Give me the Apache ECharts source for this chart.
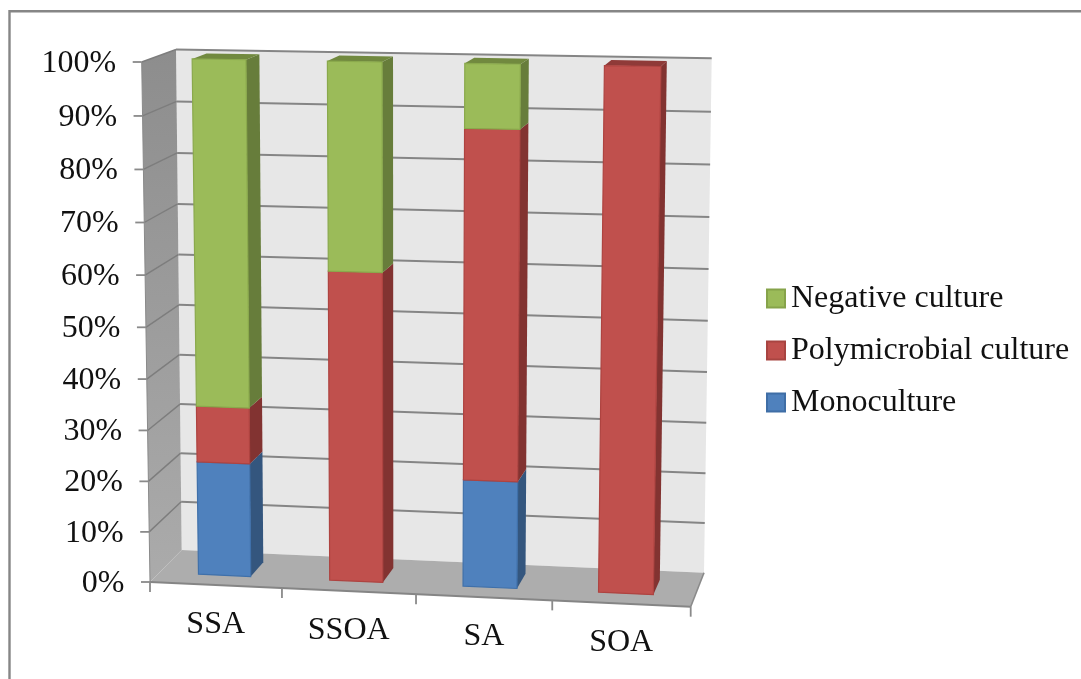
<!DOCTYPE html>
<html><head><meta charset="utf-8">
<style>html,body{margin:0;padding:0;background:#fff}#c{width:1081px;height:679px;filter:blur(0.6px)}</style>
<script src="https://cdn.jsdelivr.net/npm/echarts@6/dist/echarts.min.js"></script>
</head><body><div id="c"></div>
<script>
const categories = ['SSA', 'SSOA', 'SA', 'SOA'];
const yTicks = [0, 10, 20, 30, 40, 50, 60, 70, 80, 90, 100];
const monoculture = [22.5, 0, 21, 0];
const polymicrobial = [11, 60.5, 67, 100];
const negative = [66.5, 39.5, 12, 0];

const FONT = '"Liberation Serif","Times New Roman",serif';
// corners of the 3D box on the page
const box = {
  b0: { l: [150, 582], r: [690.7, 606.7] },
  t0: { l: [141.7, 62], r: [700, 71] },
  b1: { l: [181.7, 550], r: [704, 572.7] },
  t1: { l: [176, 49.5], r: [711.7, 58.3] }
};
const lerp = (a, b, t) => a + (b - a) * t;
const warp = (t, k) => t * k / (1 + (k - 1) * t);
function proj(u, v, d) {
  const U = warp(u, 0.9685), V = warp(v, 0.96);
  const out = [];
  for (let i = 0; i < 2; i++) {
    const f = lerp(lerp(box.b0.l[i], box.b0.r[i], U), lerp(box.t0.l[i], box.t0.r[i], U), V);
    const b = lerp(lerp(box.b1.l[i], box.b1.r[i], U), lerp(box.t1.l[i], box.t1.r[i], U), V);
    out.push(lerp(f, b, d));
  }
  return out;
}
function norm(api, params, cat, val) {
  const p = api.coord([cat, val]);
  const cs = params.coordSys;
  return [(p[0] - cs.x) / cs.width, (cs.y + cs.height - p[1]) / cs.height];
}
const poly = (points, fill, stroke, w) => ({
  type: 'polygon', shape: { points },
  style: { fill, stroke: stroke || null, lineWidth: w || 0 }, silent: true
});
const line = (a, b, color, w) => ({
  type: 'line', shape: { x1: a[0], y1: a[1], x2: b[0], y2: b[1] },
  style: { stroke: color, lineWidth: w }, silent: true
});
const text = (s, x, y, align) => ({
  type: 'text', silent: true,
  style: { text: s, x, y, align, verticalAlign: 'middle', font: '32px ' + FONT, fill: '#111111' }
});

function renderFrame(params, api) {
  const ch = [];
  const sideFill = new echarts.graphic.LinearGradient(0, 0, 0, 1, [
    { offset: 0, color: '#8d8d8d' }, { offset: 1, color: '#ababab' }]);
  ch.push(poly([proj(0, 0, 1), proj(1, 0, 1), proj(1, 1, 1), proj(0, 1, 1)], '#e7e7e7'));
  ch.push(poly([proj(0, 0, 0), proj(0, 0, 1), proj(0, 1, 1), proj(0, 1, 0)], sideFill));
  ch.push(poly([proj(0, 0, 0), proj(1, 0, 0), proj(1, 0, 1), proj(0, 0, 1)], '#adadad'));
  yTicks.forEach(t => {
    const v = norm(api, params, 0, t)[1];
    const a = proj(0, v, 0), b = proj(0, v, 1), c = proj(1, v, 1);
    if (t > 0) ch.push(line(b, c, '#858585', 2));
    if (t > 0) ch.push(line(a, b, '#7d7d7d', 1.4));
    ch.push(line([a[0] - 9, a[1]], a, '#8a8a8a', 1.8));
    ch.push(text(t + '%', a[0] - 25.5, a[1] + 1.5, 'right'));
  });
  ch.push(line(proj(0, 0, 0), proj(1, 0, 0), '#858585', 2));
  ch.push(line(proj(1, 0, 0), proj(1, 0, 1), '#8a8a8a', 1.6));
  ch.push(line(proj(0, 0, 0), proj(0, 1, 0), '#8a8a8a', 1));
  for (let i = 0; i <= categories.length; i++) {
    const p = proj(i / categories.length, 0, 0);
    ch.push(line(p, [p[0], p[1] + 10], '#8a8a8a', 1.8));
  }
  categories.forEach((c, i) => {
    const u = norm(api, params, i, 0)[0];
    const p = proj(u, 0, 0);
    ch.push(text(c, p[0], p[1] + 39.5, 'center'));
  });
  return { type: 'group', children: ch };
}

const BAR = 0.4, D0 = 0.3, D1 = 0.74;
function barRenderer(front, edge, side, top) {
  return function (params, api) {
    const cat = api.value(0), s = api.value(1), e = api.value(2), isTop = api.value(3);
    if (e <= s) return { type: 'group', children: [] };
    const band = api.size([1, 0])[0] / params.coordSys.width;
    const [uc, v0] = norm(api, params, cat, s);
    const v1 = norm(api, params, cat, e)[1];
    const l = uc - band * BAR / 2, r = uc + band * BAR / 2;
    const ch = [];
    ch.push(poly([proj(r, v0, D0), proj(r, v0, D1), proj(r, v1, D1), proj(r, v1, D0)], side));
    if (isTop) ch.push(poly([proj(l, v1, D0), proj(r, v1, D0), proj(r, v1, D1), proj(l, v1, D1)], top));
    ch.push(poly([proj(l, v0, D0), proj(r, v0, D0), proj(r, v1, D0), proj(l, v1, D0)], front, edge, 1.2));
    return { type: 'group', children: ch };
  };
}
function segs(own, below, above) {
  return categories.map((c, i) => {
    const s = below.reduce((a, arr) => a + arr[i], 0);
    const rest = above.reduce((a, arr) => a + arr[i], 0);
    return [i, s, s + own[i], rest === 0 ? 1 : 0];
  });
}
const dims = { x: 0, y: [1, 2] };
const chart = echarts.init(document.getElementById('c'), null, { renderer: 'canvas' });
chart.setOption({
  animation: false,
  backgroundColor: '#ffffff',
  grid: { left: 150, top: 62, width: 540, height: 520 },
  xAxis: { type: 'category', data: categories, show: false },
  yAxis: { type: 'value', min: 0, max: 100, interval: 10, show: false },
  legend: {
    orient: 'vertical', left: 766, top: 282.5, padding: 0, itemWidth: 18, itemHeight: 18, itemGap: 20,
    selectedMode: false, icon: 'rect',
    data: ['Negative culture', 'Polymicrobial culture', 'Monoculture'],
    textStyle: { fontFamily: FONT, fontSize: 32, color: '#111111', lineHeight: 31, padding: [0, 0, 0, 1] }
  },
  graphic: [{
    type: 'rect', shape: { x: 9.5, y: 11.3, width: 1100, height: 700 }, silent: true,
    style: { fill: 'none', stroke: '#868686', lineWidth: 2.4 }
  }],
  series: [
    { type: 'custom', name: 'frame', data: [[0, 0, 100]], encode: dims, renderItem: renderFrame, z: 1, silent: true },
    { type: 'custom', name: 'Monoculture', itemStyle: { color: '#4F81BD', borderColor: '#3f6ea6', borderWidth: 1 },
      data: segs(monoculture, [], [polymicrobial, negative]), encode: dims, z: 2, silent: true,
      renderItem: barRenderer('#4F81BD', '#3f70aa', '#34567e', '#3f6590') },
    { type: 'custom', name: 'Polymicrobial culture', itemStyle: { color: '#C0504D', borderColor: '#a84441', borderWidth: 1 },
      data: segs(polymicrobial, [monoculture], [negative]), encode: dims, z: 3, silent: true,
      renderItem: barRenderer('#C0504D', '#ae4340', '#823331', '#8f3a38') },
    { type: 'custom', name: 'Negative culture', itemStyle: { color: '#9BBB59', borderColor: '#86a34a', borderWidth: 1 },
      data: segs(negative, [monoculture, polymicrobial], []), encode: dims, z: 4, silent: true,
      renderItem: barRenderer('#9BBB59', '#8aa94c', '#677d3b', '#71893f') }
  ]
});
</script></body></html>
